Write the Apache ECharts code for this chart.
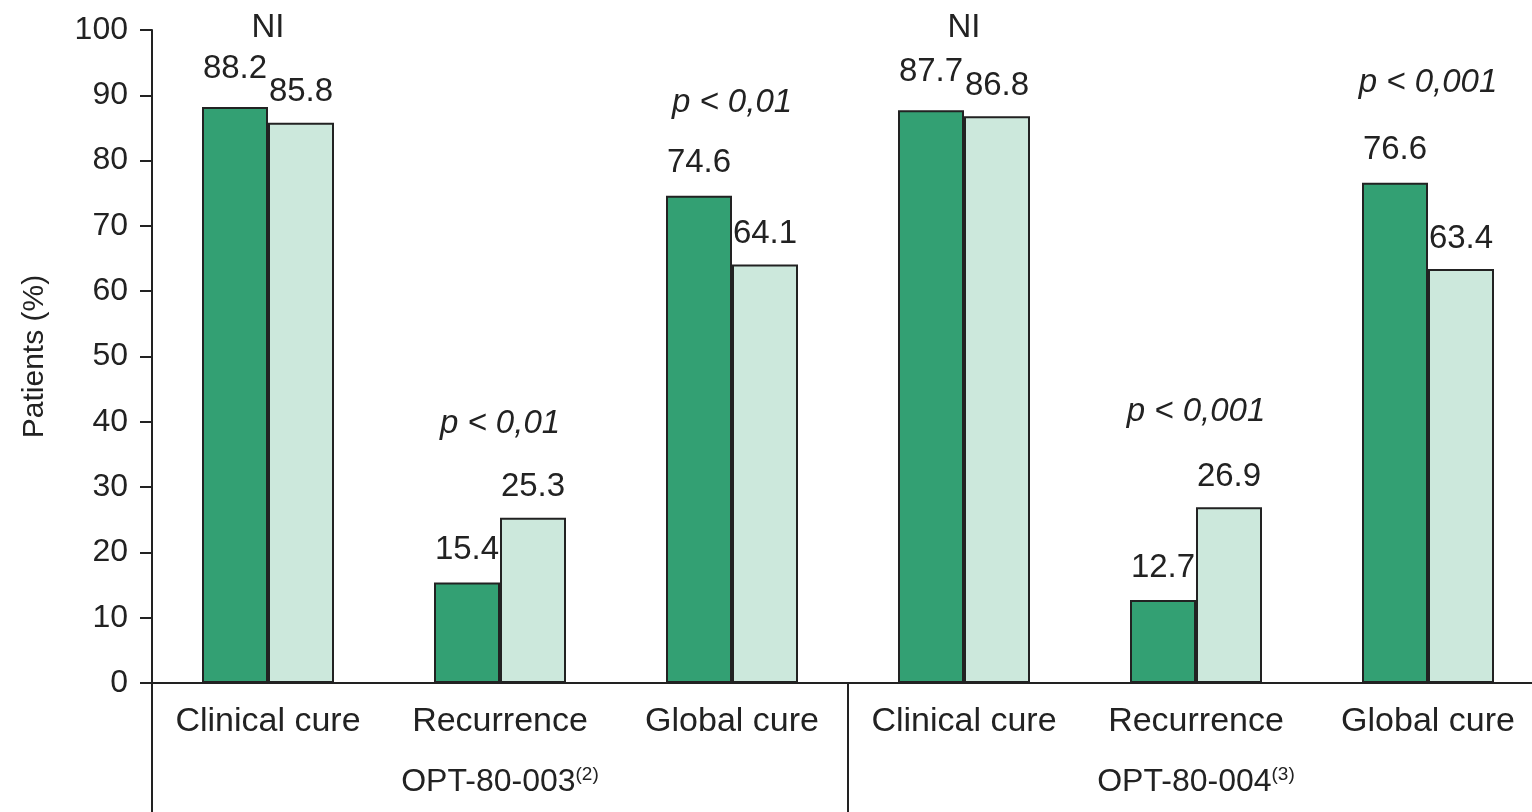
<!DOCTYPE html>
<html>
<head>
<meta charset="utf-8">
<script src="https://cdn.jsdelivr.net/npm/echarts@6/dist/echarts.min.js"></script>
<style>html,body{margin:0;padding:0;background:#fff;}#c{width:1532px;height:812px;}</style>
</head>
<body>
<div id="c"></div>
<script>
var categories = ['Clinical cure', 'Recurrence', 'Global cure', 'Clinical cure', 'Recurrence', 'Global cure'];
var groups = ['OPT-80-003', 'OPT-80-004'];
var groupRefs = ['(2)', '(3)'];
var darkValues = [88.2, 15.4, 74.6, 87.7, 12.7, 76.6];
var lightValues = [85.8, 25.3, 64.1, 86.8, 26.9, 63.4];
var annotationText = ['NI', 'p < 0,01', 'p < 0,01', 'NI', 'p < 0,001', 'p < 0,001'];
var annotationY = [100.3, 39.7, 88.8, 100.3, 41.5, 91.9];
var yTicks = [0, 10, 20, 30, 40, 50, 60, 70, 80, 90, 100];

var FONT = 'Liberation Sans, Arial, sans-serif';
var INK = '#222';
var chart = echarts.init(document.getElementById('c'), null, {renderer: 'canvas'});

var darkData = darkValues.map(function (v, i) {
  var d = (i === 0 || i === 3) ? 22 : 16;
  return {value: v, label: {distance: d}};
});
var annData = annotationText.map(function (t, i) {
  return {
    value: [i, annotationY[i]],
    label: {formatter: t, fontStyle: t.indexOf('p') === 0 ? 'italic' : 'normal'}
  };
});

var option = {
  animation: false,
  backgroundColor: '#fff',
  grid: {left: 152, top: 30, bottom: 129, width: 1392, outerBoundsMode: 'none', containLabel: false},
  xAxis: [{
    type: 'category',
    data: categories,
    axisLine: {lineStyle: {color: INK, width: 2}},
    axisTick: {
      show: true, length: 130, inside: false,
      interval: function (idx) { return idx === 0 || idx === 3; },
      lineStyle: {color: INK, width: 2}
    },
    axisLabel: {color: INK, fontFamily: FONT, fontSize: 34, margin: 22, interval: 0}
  }, {
    type: 'category',
    data: groups,
    position: 'bottom',
    axisLine: {show: false},
    axisTick: {show: false},
    axisLabel: {
      margin: 82, interval: 0,
      formatter: function (v, i) { return '{a|' + v + '}{s|' + groupRefs[i] + '}'; },
      rich: {
        a: {fontFamily: FONT, fontSize: 32, color: INK, lineHeight: 34},
        s: {fontFamily: FONT, fontSize: 19, color: INK, verticalAlign: 'top', lineHeight: 34, padding: [0, 0, 14, 0]}
      }
    }
  }],
  yAxis: {
    type: 'value', min: 0, max: 100, interval: 10,
    name: 'Patients (%)', nameLocation: 'middle', nameGap: 102, nameRotate: 90,
    nameTextStyle: {color: INK, fontFamily: FONT, fontSize: 30},
    axisLine: {show: true, lineStyle: {color: INK, width: 2}},
    axisTick: {show: true, length: 12, lineStyle: {color: INK, width: 2}},
    splitLine: {show: false},
    axisLabel: {color: INK, fontFamily: FONT, fontSize: 32, margin: 24,
      formatter: function (v) { return yTicks.indexOf(v) >= 0 ? String(v) : ''; }}
  },
  series: [{
    type: 'bar', xAxisIndex: 0, data: darkData, barWidth: 66, barGap: '0%',
    itemStyle: {color: '#33a073', borderColor: INK, borderWidth: 2},
    label: {show: true, position: 'top', color: INK, fontFamily: FONT, fontSize: 33, formatter: '{c}'}
  }, {
    type: 'bar', xAxisIndex: 0, data: lightValues, barWidth: 66, barGap: '0%',
    itemStyle: {color: '#cce8dc', borderColor: INK, borderWidth: 2},
    label: {show: true, position: 'top', distance: 14, color: INK, fontFamily: FONT, fontSize: 33, formatter: '{c}'}
  }, {
    type: 'scatter', xAxisIndex: 0, data: annData, symbolSize: 0, clip: false,
    itemStyle: {color: INK},
    label: {show: true, position: 'inside', color: INK, opacity: 1, fontFamily: FONT, fontSize: 33},
    silent: true
  }]
};
chart.setOption(option);
</script>
</body>
</html>
